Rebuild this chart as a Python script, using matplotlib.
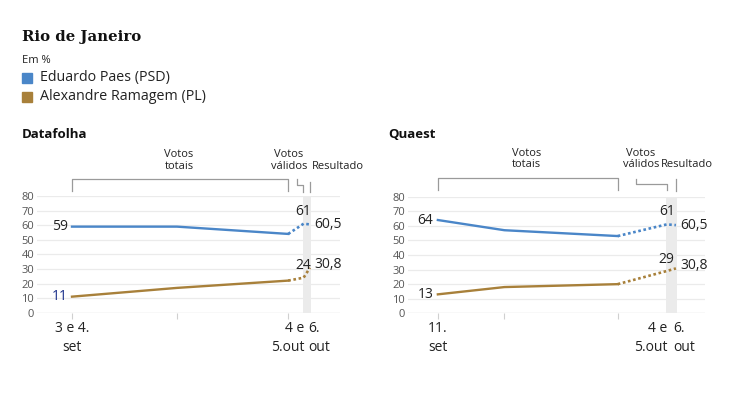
import matplotlib.pyplot as plt

# --- data -------------------------------------------------------------
# x = days after the first poll of each institute (result points shifted a bit)
df_x = [0, 15, 30.9]
df_valid_x = 33.1
df_result_x = 34.0
df_paes = [59, 59, 54]
df_ramagem = [11, 17, 22]
df_paes_valid, df_ramagem_valid = 61, 24

qu_x = [0, 8.7, 23.5]
qu_valid_x = 29.9
qu_result_x = 31.1
qu_paes = [64, 57, 53]
qu_ramagem = [13, 18, 20]
qu_paes_valid, qu_ramagem_valid = 61, 29

result_paes, result_ramagem = 60.5, 30.8

df_first_label = "3 e 4.\nset"
qu_first_label = "11.\nset"
valid_label = "4 e\n5.out"
result_label = "6.\nout"

BLUE = "#4a86c8"
BROWN = "#a8803a"
GREY = "#9a9a9a"
FONT = "Open Sans"

W, H = 735, 399
fig = plt.figure(figsize=(W / 100, H / 100), dpi=100)
plt.rcParams["font.family"] = [FONT, "DejaVu Sans"]


def px_axes(x0, x1, ytop, ybot):
    return fig.add_axes([x0 / W, 1 - ybot / H, (x1 - x0) / W, (ybot - ytop) / H])


def panel(ax, xs, paes, ram, vx, rx, pv, rv, xlim, first_label, paes_lab, ram_lab,
          tot_br, val_br, res_br, txt_x, txt_y, first_color):
    ax.set_xlim(*xlim)
    ax.set_ylim(0, 80)
    for s in ax.spines.values():
        s.set_visible(False)
    ax.set_yticks(range(0, 81, 10))
    ax.tick_params(axis="y", length=0, pad=2, labelsize=8, labelcolor="#555555")
    ax.set_xticks(xs)
    ax.set_xticklabels([])
    ax.tick_params(axis="x", length=4, color="#d0d0d0", width=0.8)
    for v in range(10, 81, 10):
        ax.axhline(v, color="#ebebeb", lw=0.9, zorder=0)
    ax.axhline(0, color="#c8c8c8", lw=0.9, zorder=0)
    ax.axvspan(vx - 0.15, rx + 0.15, color="#ebebeb", zorder=0, lw=0)

    # solid poll lines, dotted towards valid votes and result
    ax.plot(xs, paes, color=BLUE, lw=1.7, clip_on=False)
    ax.plot(xs, ram, color=BROWN, lw=1.7, clip_on=False)
    ax.plot([xs[-1], vx, rx], [paes[-1], pv, result_paes], color=BLUE, lw=1.9,
            ls=(0, (1, 1)), clip_on=False)
    ax.plot([xs[-1], vx, rx], [ram[-1], rv, result_ramagem], color=BROWN, lw=1.9,
            ls=(0, (1, 1)), clip_on=False)

    fs = 10
    ax.text(xs[0] - 0.6, paes[0], paes_lab, ha="right", va="center", fontsize=fs, color="#222222")
    ax.text(xs[0] - 0.6, ram[0], ram_lab, ha="right", va="center", fontsize=fs, color=first_color)
    ax.text(vx, pv + 3.5, "%d" % pv, ha="center", va="bottom", fontsize=fs, color="#222222")
    ax.text(rx + 0.6, result_paes, "60,5", ha="left", va="center", fontsize=fs, color="#222222")
    ax.text(vx, rv + 3, "%d" % rv, ha="center", va="bottom", fontsize=fs, color="#222222")
    ax.text(rx + 0.6, result_ramagem + 2, "30,8", ha="left", va="center", fontsize=fs, color="#222222")

    # x labels
    tr = ax.get_xaxis_transform()
    ax.text(xs[0], -0.07, first_label, ha="center", va="top", fontsize=fs,
            transform=tr, linespacing=1.35, color="#222222")
    ax.text(vx + 0.1, -0.07, valid_label, ha="right", va="top", fontsize=fs,
            transform=tr, linespacing=1.35, color="#222222")
    ax.text(rx - 0.3, -0.07, result_label, ha="left", va="top", fontsize=fs,
            transform=tr, linespacing=1.35, color="#222222")

    # brackets
    x0, x1, top, bot = tot_br
    ax.plot([x0, x0, x1, x1], [bot, top, top, bot], color=GREY, lw=0.9, transform=tr, clip_on=False)
    x0, x1, top, mid, bot = val_br
    ax.plot([x0, x0, x1, x1], [top, mid, mid, bot], color=GREY, lw=0.9, transform=tr, clip_on=False)
    xr, top, bot = res_br
    ax.plot([xr, xr], [top, bot], color=GREY, lw=0.9, transform=tr, clip_on=False)

    tx_tot, tx_val, tx_res = txt_x
    ax.text(tx_tot, txt_y, "Votos\ntotais", ha="center", va="bottom", fontsize=8,
            transform=tr, linespacing=1.1, color="#222222")
    ax.text(tx_val, txt_y, "Votos\nválidos", ha="center", va="bottom", fontsize=8,
            transform=tr, linespacing=1.1, color="#222222")
    ax.text(tx_res, txt_y, "Resultado", ha="center", va="bottom", fontsize=8,
            transform=tr, color="#222222")


ax1 = px_axes(37, 340, 196, 312.7)
panel(ax1, df_x, df_paes, df_ramagem, df_valid_x, df_result_x, df_paes_valid, df_ramagem_valid,
      (-5, 38.3), df_first_label, "59", "11",
      (0, 30.9, 1.143, 1.043), (32.1, 33.0, 1.143, 1.094, 1.037), (34.0, 1.122, 1.037),
      (15.3, 31.0, 38.0), 1.205, "#1a2f8a")

ax2 = px_axes(408, 705, 196.7, 313.3)
panel(ax2, qu_x, qu_paes, qu_ramagem, qu_valid_x, qu_result_x, qu_paes_valid, qu_ramagem_valid,
      (-3.9, 34.9), qu_first_label, "64", "13",
      (0, 23.5, 1.163, 1.06), (25.9, 29.9, 1.155, 1.11, 1.058), (31.1, 1.155, 1.052),
      (11.6, 26.5, 32.5), 1.225, "#222222")

# header
fig.text(22 / W, 1 - 41 / H, "Rio de Janeiro", fontsize=10.7, fontweight="bold",
         family="DejaVu Serif", color="#111111")
fig.text(22 / W, 1 - 63 / H, "Em %", fontsize=8, color="#222222")
for i, (name, col) in enumerate([("Eduardo Paes (PSD)", BLUE), ("Alexandre Ramagem (PL)", BROWN)]):
    yc = 78 + i * 19
    fig.patches.append(plt.Rectangle((22 / W, 1 - (yc + 5) / H), 10 / W, 10 / H,
                                     transform=fig.transFigure, color=col, figure=fig))
    fig.text(40 / W, 1 - yc / H, name, fontsize=10.3, va="center", color="#222222")

fig.text(22 / W, 1 - 135 / H, "Datafolha", fontsize=9.5, fontweight="bold", va="center", color="#111111")
fig.text(388 / W, 1 - 135 / H, "Quaest", fontsize=9.5, fontweight="bold", va="center", color="#111111")

fig.savefig("out.png", dpi=100)
